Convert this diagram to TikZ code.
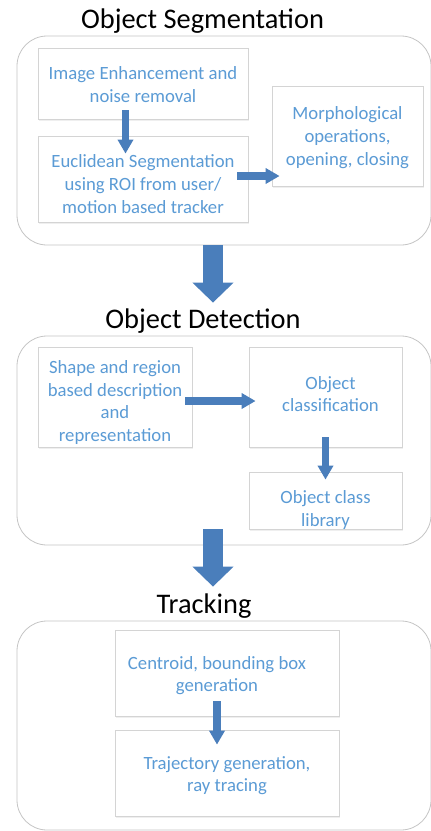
\documentclass[tikz,border=0pt]{standalone}
\usepackage{fontspec}
\setmainfont{Carlito}
\usetikzlibrary{arrows.meta,positioning,calc,shadows}
\definecolor{cText}{HTML}{5B9BD5}
\definecolor{cArrow}{HTML}{4A7EBB}
\definecolor{cFrame}{HTML}{C4C4C4}
\definecolor{cBox}{HTML}{D4D4D4}
% text block of a task, moved down by #1 inside its box
\newcommand{\boxtext}[2]{\raisebox{-#1}[\height][\depth]{\begin{tabular}{@{}c@{}}#2\end{tabular}}}
\tikzset{
  stage/.style  ={draw=cFrame, rounded corners=30pt, line width=0.8pt, inner sep=0pt},
  title/.style  ={font=\fontsize{28.4}{34}\selectfont, anchor=base, inner sep=0pt},
  task/.style   ={draw=cBox, fill=white, text=cText, inner sep=0pt,
                  font=\fontsize{18.7}{22.8}\selectfont, line width=0.8pt,
                  drop shadow={shadow xshift=1pt, shadow yshift=-1.5pt, fill=black!12}},
  flow/.style   ={-{Triangle[width=15pt,length=14pt]}, line width=7.5pt, draw=cArrow},
  bigflow/.style={-{Triangle[width=40pt,length=20pt]}, line width=20pt, draw=cArrow},
}

\begin{document}
\begin{tikzpicture}[x=1pt, y=-1pt]
  \useasboundingbox (0,0) rectangle (431,831);
  % stage frames
  \node[stage, minimum width=414, minimum height=209] (seg) at (224,140.5) {};
  \node[stage, minimum width=414, minimum height=209] (det) at (224,440.5) {};
  \node[stage, minimum width=414, minimum height=209] (trk) at (224,725.5) {};
  \node[title] (segT) at (202.5,28) {Object Segmentation};
  \node[title] (detT) at (203,328) {Object Detection};
  \node[title] (trkT) at (204,613) {Tracking};

  % segmentation
  \node[task, minimum width=210, minimum height=71] (enh) at (143,83.5)
    {\boxtext{3pt}{Image Enhancement and\\noise removal}};
  \node[task, minimum width=210, minimum height=86] (euc) at (143,179)
    {\boxtext{7pt}{Euclidean Segmentation\\using ROI from user/\\motion based tracker}};
  \node[task, minimum width=151, minimum height=100] (mor) at (347.5,136)
    {\boxtext{2pt}{Morphological\\operations,\\opening, closing}};
  \draw[flow] ($(enh.south)+(-17.5,-9)$) -- ($(euc.north)+(-17.5,18)$);
  \draw[flow] ($(euc.east)+(-11,-3)$) -- ($(euc.east -| mor.west)+(8,-3)$);

  % detection
  \node[task, minimum width=154, minimum height=100] (shp) at (115,397)
    {\boxtext{6pt}{Shape and region\\based description\\and\\representation}};
  \node[task, minimum width=153, minimum height=100] (cls) at (325.5,397)
    {\boxtext{-1pt}{\hspace*{10pt}Object\\\hspace*{10pt}classification}};
  \node[task, minimum width=153, minimum height=57] (lib) at (325.5,500.5)
    {\boxtext{10pt}{Object class\\library}};
  \draw[flow] ($(shp.east)+(-7,4)$) -- ($(cls.west)+(7,4)$);
  \draw[flow] ($(cls.south)+(0,-10)$) -- ($(lib.north)+(0,8)$);

  % tracking
  \node[task, minimum width=224, minimum height=86] (cen) at (227,673)
    {\boxtext{3pt}{Centroid, bounding box\hspace*{20pt}\\generation\hspace*{20pt}}};
  \node[task, minimum width=224, minimum height=86] (tra) at (227,773)
    {\boxtext{3pt}{Trajectory generation,\\ray tracing}};
  \draw[flow] ($(cen.south)+(-10,-15)$) -- ($(tra.north)+(-10,15)$);

  % between stages
  \draw[bigflow] ($(seg.south)+(-11,0)$) -- ($(det.north)+(-11,-33)$);
  \draw[bigflow] ($(det.south)+(-11,-16)$) -- ($(trk.north)+(-11,-34)$);
\end{tikzpicture}
\end{document}
